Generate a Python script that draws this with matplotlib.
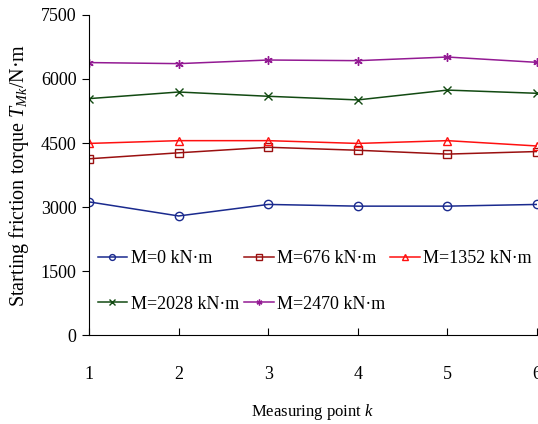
import numpy as np
import matplotlib.pyplot as plt

plt.rcParams['font.family'] = ['Liberation Serif', 'DejaVu Serif']
plt.rcParams['mathtext.fontset'] = 'custom'
plt.rcParams['mathtext.it'] = 'Liberation Serif:italic'
plt.rcParams['mathtext.rm'] = 'Liberation Serif'

k = [1, 2, 3, 4, 5, 6]
m0 = [3120, 2790, 3060, 3020, 3020, 3060]
m676 = [4130, 4270, 4400, 4330, 4240, 4300]
m1352 = [4490, 4555, 4555, 4490, 4555, 4430]
m2028 = [5540, 5695, 5595, 5510, 5740, 5665]
m2470 = [6385, 6360, 6445, 6430, 6515, 6390]
labels = ['M=0 kN·m', 'M=676 kN·m', 'M=1352 kN·m', 'M=2028 kN·m', 'M=2470 kN·m']

fig = plt.figure(figsize=[5.38, 4.24], dpi=100)
ax = fig.add_axes([89/538, 1-335/424, 448/538, 320/424])

series = [m0, m676, m1352, m2028, m2470]
colors = ['#1a2a8e', '#9a1010', '#ff1010', '#124a12', '#931a93']
markers = ['o', 's', '^', 'x', (6, 2, 0)]
hs = []
for s, c, mk, lab in zip(series, colors, markers, labels):
    h, = ax.plot(k, s, color=c, lw=1.1, marker=mk, ms=6, mfc='none', mec=c, mew=1.0, label=lab)
    hs.append(h)

ax.set_xlim(1, 6)
ax.set_ylim(0, 7500)
ax.set_xticks(k)
ax.set_yticks([0, 1500, 3000, 4500, 6000, 7500])
ax.spines['top'].set_visible(False)
ax.spines['right'].set_visible(False)
ax.tick_params(axis='x', direction='in', length=5, pad=22, labelsize=13)
ax.tick_params(axis='y', direction='out', length=5, pad=4, labelsize=13)
ax.set_xlabel('Measuring point $k$', fontsize=12, labelpad=14)
ax.set_ylabel('Starting friction torque $T_{Mk}$/N·m', fontsize=14.5, labelpad=7)

order = [0, 3, 1, 4, 2]
ax.legend([hs[i] for i in order], [labels[i] for i in order], ncol=3, frameon=False,
          fontsize=13, loc='upper left', bbox_to_anchor=(-0.005, 0.30),
          handlelength=1.65, handletextpad=0.2, columnspacing=0.25, labelspacing=1.6,
          borderaxespad=0.2, markerscale=0.7)

plt.savefig('out.png', dpi=100)
